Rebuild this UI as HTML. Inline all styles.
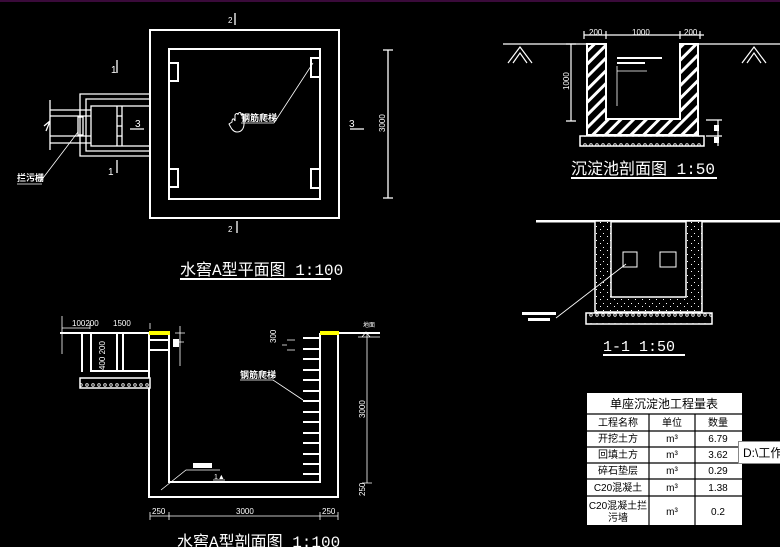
<!DOCTYPE html>
<html><head><meta charset="utf-8"><style>
html,body{margin:0;padding:0;background:#000;width:780px;height:547px;overflow:hidden}
svg{display:block}
text{font-family:"Liberation Sans","Noto Sans CJK SC",sans-serif;fill:#fff}
text.t{font-family:"Liberation Mono","Noto Sans CJK SC",monospace;font-weight:normal}
</style></head><body>
<svg width="780" height="547" viewBox="0 0 780 547" xmlns="http://www.w3.org/2000/svg">
<defs>
<pattern id="hat" width="9" height="9" patternUnits="userSpaceOnUse" patternTransform="rotate(45)">
<rect width="9" height="9" fill="#000"/><rect x="0" y="0" width="3" height="9" fill="#fff"/></pattern>
<pattern id="dots" width="7" height="7" patternUnits="userSpaceOnUse">
<rect width="7" height="7" fill="#000"/><rect x="1" y="2" width="1" height="1" fill="#fff"/><rect x="5" y="5" width="1" height="1" fill="#fff"/></pattern>
<pattern id="grav" width="6" height="10" patternUnits="userSpaceOnUse">
<rect width="6" height="10" fill="#000"/><circle cx="3" cy="5" r="1.3" fill="none" stroke="#fff" stroke-width="0.8"/></pattern>
</defs>
<rect width="780" height="547" fill="#000"/>
<rect width="780" height="2" fill="#3a0a3a"/>

<!-- ===== PLAN VIEW ===== -->
<g fill="none" stroke="#fff" stroke-width="2">
<rect x="150" y="30" width="189" height="188"/>
<rect x="169" y="49" width="151" height="150"/>
<path d="M169 63h9v18h-9M169 169h9v18h-9M320 58h-9v19h9M320 169h-9v19h9"/>
</g>
<g fill="none" stroke="#fff" stroke-width="1.3">
<path d="M150 94H80v62h70M150 99H86v52h64"/>
<rect x="91" y="106" width="59" height="40"/>
<path d="M117 106v40M122 106v40M117 116h5M117 126h5M117 136h5"/>
<path d="M50 110h41M50 116h41M50 136h41M50 143h41M50 100v50M44 126l6-5-4 10"/>
<rect x="78" y="117" width="5" height="18"/>
<path d="M117 60v13M117 160v13M235 13v12M237 221v12M388 50v148M383 50h10M383 198h10"/>
<path d="M130 129h14M350 129h14"/>
</g>
<g stroke="#fff" stroke-width="0.8" fill="none">
<path d="M274 123l39-60M241 123h33"/><path d="M40 182l38-50M17 184h25"/></g>
<text x="111" y="73" font-size="10">1</text><text x="108" y="175" font-size="10">1</text>
<text x="228" y="23" font-size="8">2</text><text x="228" y="232" font-size="8">2</text>
<text x="135" y="127" font-size="10">3</text><text x="349" y="127" font-size="10">3</text>
<text x="241" y="121" font-size="9" font-weight="bold">钢筋爬梯</text>
<text x="17" y="181" font-size="9" font-weight="bold">拦污栅</text>
<text transform="translate(385 132) rotate(-90)" font-size="8">3000</text>
<path d="M232 122c0-4 2-4 3-1l0-6c1-2 3-2 3 0l0-1c1-2 3-2 3 0v1c1-2 3-1 3 1v8c0 5-3 8-7 8-4 0-6-4-8-8z" fill="none" stroke="#fff" stroke-width="1"/>
<text class="t" x="180" y="275" font-size="16">水窖A型平面图  1:100</text>
<rect x="180" y="278" width="151" height="2" fill="#fff"/>

<!-- ===== SETTLING SECTION ===== -->
<g stroke="#fff" stroke-width="1.2" fill="none">
<path d="M503 44h84M698 44h82"/>
<path d="M508 63l12-16 12 16M513 63l7-10 7 10M742 63l12-16 12 16M747 63l7-10 7 10"/>
<path d="M584 35h120M584 31v8M606 31v8M680 31v8M700 31v8"/>
<path d="M571 44v77M566 44h10M566 121h10M706 120h16M706 136h16M718 120v26"/>
</g>
<path d="M587 44h19v75h74v-75h18v91h-111z" fill="url(#hat)" stroke="#fff" stroke-width="2"/>
<rect x="580" y="136" width="124" height="10" fill="url(#grav)" stroke="#fff" stroke-width="1.5"/>
<rect x="714" y="125" width="5" height="6" fill="#fff"/><rect x="714" y="137" width="5" height="6" fill="#fff"/>
<rect x="617" y="57" width="45" height="2" fill="#fff"/><rect x="617" y="62" width="28" height="2" fill="#fff"/>
<path d="M617 71h30M617 66v40" stroke="#fff" stroke-width="0.8"/>
<text x="589" y="35" font-size="8">200</text><text x="632" y="35" font-size="8">1000</text><text x="684" y="35" font-size="8">200</text>
<text transform="translate(569 90) rotate(-90)" font-size="8">1000</text>
<text class="t" x="571" y="174" font-size="16">沉淀池剖面图 1:50</text>
<rect x="571" y="177" width="146" height="2" fill="#fff"/>

<!-- ===== 1-1 SECTION ===== -->
<rect x="536" y="220" width="244" height="2.5" fill="#fff"/>
<path d="M595 221v91h107v-91h-16v76h-75v-76z" fill="url(#dots)" stroke="#fff" stroke-width="1.5"/>
<rect x="586" y="313" width="126" height="11" fill="url(#grav)" stroke="#fff" stroke-width="1.5"/>
<rect x="623" y="252" width="14" height="15" fill="none" stroke="#fff" stroke-width="1"/>
<rect x="660" y="252" width="16" height="15" fill="none" stroke="#fff" stroke-width="1"/>
<path d="M556 318l70-54" stroke="#fff" stroke-width="0.8"/>
<rect x="522" y="312" width="34" height="3" fill="#fff"/><rect x="528" y="318" width="22" height="3" fill="#fff"/>
<text class="t" x="603" y="351" font-size="15">1-1  1:50</text>
<rect x="603" y="354" width="82" height="2" fill="#fff"/>

<!-- ===== WATER CELLAR SECTION ===== -->
<g stroke="#fff" stroke-width="2" fill="none">
<path d="M60 333h89M338 333h42"/>
<path d="M149 333v164h189v-164M169 333v149h151v-149"/>
<path d="M82 333v39M91 333v38h58M117 333v37M123 333v37M150 340h19M150 350h19"/>
</g>
<rect x="80" y="378" width="70" height="10" fill="url(#grav)" stroke="#fff" stroke-width="1.5"/>
<rect x="149" y="331" width="21" height="4" fill="#ff0"/><rect x="320" y="331" width="19" height="4" fill="#ff0"/>
<g stroke="#fff" stroke-width="2">
<path d="M303 338h16M303 349h16M303 359h16M303 370h16M303 380h16M303 391h16M303 401h16M303 412h16M303 422h16M303 433h16M303 443h16M303 454h16M303 464h16M303 474h16"/>
</g>
<g stroke="#fff" stroke-width="0.8" fill="none">
<path d="M62 316v38M62 328h28M150 323v6M90 323v6M180 326v40M176 342h8M175 333h10"/>
<path d="M367 333v150M362 483h10M287 340h8M287 350h8M282 345h5"/>
<path d="M150 516h188M150 512v8M169 512v8M320 512v8M338 512v8"/>
<path d="M240 380h33l30 20M161 490l25-20h34M213 480h12"/>
<path d="M362 337l4-5 4 5h-8M358 337h22"/>
</g>
<rect x="173" y="339" width="6" height="8" fill="#fff"/>
<rect x="193" y="463" width="19" height="5" fill="#fff"/>
<text x="72" y="326" font-size="8">100200</text><text x="113" y="326" font-size="8">1500</text>
<text transform="translate(105 370) rotate(-90)" font-size="8">400 200</text>
<text transform="translate(276 343) rotate(-90)" font-size="8">300</text>
<text transform="translate(365 418) rotate(-90)" font-size="8">3000</text>
<text transform="translate(365 496) rotate(-90)" font-size="8">250</text>
<text x="363" y="327" font-size="6">地面</text>
<text x="240" y="378" font-size="9" font-weight="bold">钢筋爬梯</text>
<text x="214" y="479" font-size="7">1▲</text>
<text x="152" y="514" font-size="8">250</text><text x="236" y="514" font-size="8">3000</text><text x="322" y="514" font-size="8">250</text>
<text class="t" x="177" y="547" font-size="16">水窖A型剖面图  1:100</text>

<!-- ===== TABLE ===== -->
<g font-size="10">
<rect x="587" y="393" width="155" height="132" fill="#fff"/>
<g stroke="#000" stroke-width="1.2" fill="none">
<path d="M587 414h155M587 431h155M587 447h155M587 463h155M587 479h155M587 496h155M649 414v111M695 414v111"/>
</g>
<g text-anchor="middle">
<text x="664" y="408" font-size="12" style="fill:#000">单座沉淀池工程量表</text>
<text x="618" y="426" style="fill:#000">工程名称</text><text x="672" y="426" style="fill:#000">单位</text><text x="718" y="426" style="fill:#000">数量</text>
<text x="618" y="442" style="fill:#000">开挖土方</text><text x="672" y="442" style="fill:#000">m³</text><text x="718" y="442" style="fill:#000">6.79</text>
<text x="618" y="458" style="fill:#000">回填土方</text><text x="672" y="458" style="fill:#000">m³</text><text x="718" y="458" style="fill:#000">3.62</text>
<text x="618" y="474" style="fill:#000">碎石垫层</text><text x="672" y="474" style="fill:#000">m³</text><text x="718" y="474" style="fill:#000">0.29</text>
<text x="618" y="491" style="fill:#000">C20混凝土</text><text x="672" y="491" style="fill:#000">m³</text><text x="718" y="491" style="fill:#000">1.38</text>
<text x="618" y="509" style="fill:#000">C20混凝土拦</text><text x="618" y="521" style="fill:#000">污墙</text><text x="672" y="515" style="fill:#000">m³</text><text x="718" y="515" style="fill:#000">0.2</text>
</g>
</g>
<rect x="738.5" y="441.5" width="45" height="22" fill="#fff" stroke="#888"/>
<text x="743" y="457" font-size="12" style="fill:#000">D:\工作</text>
</svg>
</body></html>
